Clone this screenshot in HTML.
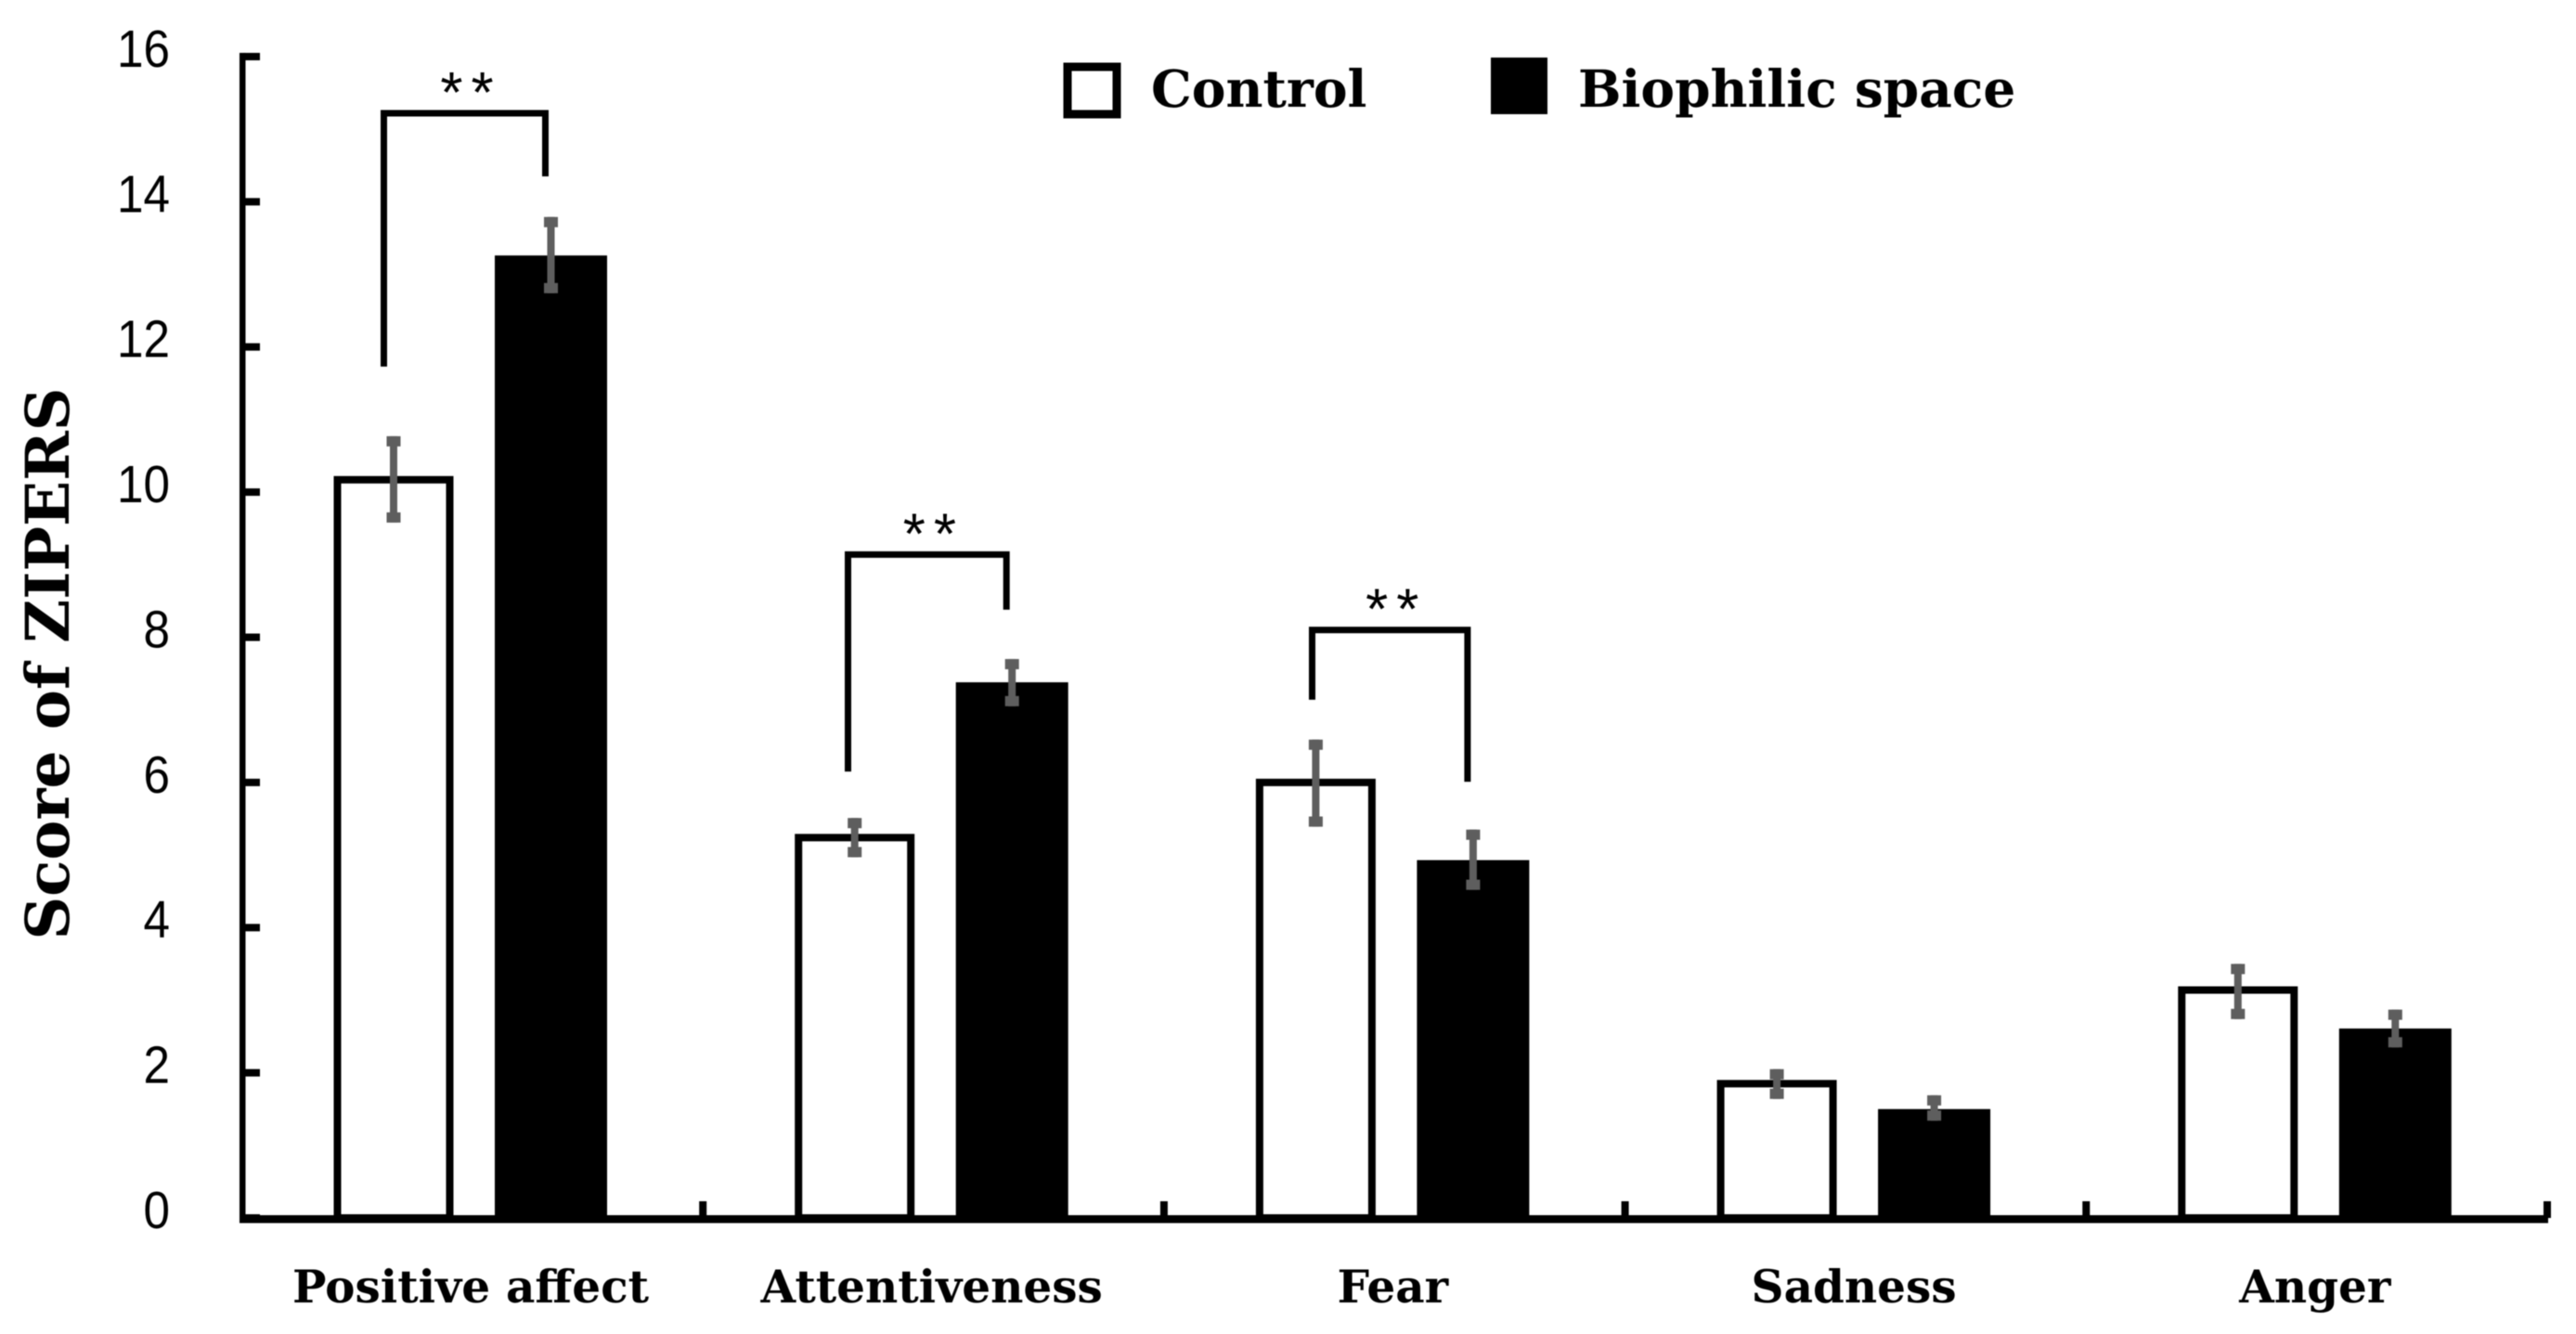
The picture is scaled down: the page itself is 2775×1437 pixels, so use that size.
<!DOCTYPE html>
<html lang="en">
<head>
<meta charset="utf-8">
<title>Score of ZIPERS</title>
<style>
  html, body { margin: 0; padding: 0; background: #fff; }
  svg { display: block; filter: blur(0.6px); }
  .serif { font-family: "DejaVu Serif", "Liberation Serif", serif; font-weight: 700; fill: #000; }
  .sans { font-family: "Liberation Sans", Arial, sans-serif; fill: #000; }
</style>
</head>
<body>
<svg id="chart" xmlns="http://www.w3.org/2000/svg" width="2775" height="1437" viewBox="0 0 2775 1437">
  <rect x="0" y="0" width="2775" height="1437" fill="#fff"/>
  <g id="bars"></g>
  <g id="errors"></g>
  <g id="axes"></g>
  <g id="brackets"></g>
  <text class="serif" transform="translate(74,715) rotate(-90)" text-anchor="middle" font-size="64.5">Score of ZIPERS</text>
  <g>
    <g>
      <rect x="1150" y="72" width="53" height="51" fill="#fff" stroke="#000" stroke-width="9"/>
      <text class="serif" x="1240" y="115" font-size="55">Control</text>
    </g>
    <g>
      <rect x="1606" y="62" width="61" height="61" fill="#000"/>
      <text class="serif" x="1700" y="115" font-size="55">Biophilic space</text>
    </g>
  </g>
</svg>
<script>
const categories = ["Positive affect", "Attentiveness", "Fear", "Sadness", "Anger"];
const controlValues = [10.17, 5.24, 6.0, 1.85, 3.14];
const biophilicValues = [13.26, 7.38, 4.93, 1.5, 2.61];
const controlErrHigh = [10.77, 5.51, 6.59, 2.05, 3.50];
const controlErrLow = [9.58, 4.97, 5.39, 1.64, 2.74];
const biophilicErrHigh = [13.79, 7.70, 5.35, 1.69, 2.87];
const biophilicErrLow = [12.74, 7.05, 4.52, 1.34, 2.35];
const yTicks = [0, 2, 4, 6, 8, 10, 12, 14, 16];
const significantCategories = ["Positive affect", "Attentiveness", "Fear"];
const bracketTopValues = [15.22, 9.14, 8.10];
const bracketLeftEndValues = [11.73, 6.15, 7.14];
const bracketRightEndValues = [14.35, 8.38, 6.01];
const significanceLabel = "**";

const NS = "http://www.w3.org/2000/svg";
const Y0 = 1312, PX_PER_UNIT = 78.19;
const X0 = 260.5, BAND = 496.7;
const yScale = v => Y0 - v * PX_PER_UNIT;
const bandStart = i => X0 + i * BAND;
const CONTROL_CENTER = 163.5, BIO_CENTER = 333, CONTROL_W = 129, BIO_W = 121, LABEL_CENTER = 246.5;

function make(tag, attrs, parent) {
  const el = document.createElementNS(NS, tag);
  for (const k in attrs) el.setAttribute(k, attrs[k]);
  parent.appendChild(el);
  return el;
}

const barsG = document.getElementById("bars");
const errG = document.getElementById("errors");
const axesG = document.getElementById("axes");
const brG = document.getElementById("brackets");

function drawError(cx, hi, lo, name) {
  const capW = 15, capH = 11, stem = 8;
  const yHi = yScale(hi), yLo = yScale(lo);
  const g = make("g", { fill: "#5e5e5e" }, errG);
  
  
  make("rect", { x: cx - stem / 2, y: yHi, width: stem, height: yLo - yHi }, g);
  make("rect", { x: cx - capW / 2, y: yHi, width: capW, height: capH }, g);
  make("rect", { x: cx - capW / 2, y: yLo - capH, width: capW, height: capH }, g);
}

categories.forEach((cat, i) => {
  const slug = cat.toLowerCase().replace(/\s+/g, "-");
  const sw = 8;
  const cCx = bandStart(i) + CONTROL_CENTER;
  const bCx = bandStart(i) + BIO_CENTER;

  const cTop = yScale(controlValues[i]);
  const cBar = make("rect", {
    x: cCx - CONTROL_W / 2 + sw / 2, y: cTop,
    width: CONTROL_W - sw, height: Y0 - cTop,
    fill: "#fff", stroke: "#000", "stroke-width": sw
  }, barsG);
  
  

  const bTop = yScale(biophilicValues[i]);
  const bBar = make("rect", {
    x: bCx - BIO_W / 2, y: bTop,
    width: BIO_W, height: Y0 - bTop, fill: "#000"
  }, barsG);
  
  

  drawError(cCx, controlErrHigh[i], controlErrLow[i], 'error-bar-control-' + slug);
  drawError(bCx, biophilicErrHigh[i], biophilicErrLow[i], 'error-bar-biophilic-' + slug);

  const lab = make("text", {
    class: "serif", x: bandStart(i) + LABEL_CENTER, y: 1403,
    "text-anchor": "middle", "font-size": 48.5
  }, axesG);
  lab.textContent = cat;
  
  
});

const yAxis = make("rect", { x: 258, y: yScale(16) - 4, width: 6.5, height: Y0 + 5 - yScale(16) + 4, fill: "#000" }, axesG);



const xAxis = make("rect", { x: 258, y: Y0 - 3, width: bandStart(categories.length) + 1 - 258, height: 8.5, fill: "#000" }, axesG);



yTicks.forEach(t => {
  const tick = make("rect", { x: 262, y: yScale(t) - 4, width: 18, height: 8, fill: "#000" }, axesG);
  
  
  const lab = make("text", {
    class: "sans", transform: "translate(183," + (yScale(t) + 11) + ") scale(0.9,1)",
    "text-anchor": "end", "font-size": 57
  }, axesG);
  lab.textContent = String(t);
  
  
});

for (let i = 1; i <= categories.length; i++) {
  const tick = make("rect", { x: bandStart(i) - 4, y: 1294, width: 8, height: 18, fill: "#000" }, axesG);
  
  
}

function drawBracket(catName, k) {
  const i = categories.indexOf(catName);
  const slug = catName.toLowerCase().replace(/\s+/g, "-");
  const lx = bandStart(i) + 153 + k * 3.3, rx = bandStart(i) + 327;
  const top = yScale(bracketTopValues[k]);
  const path = make("path", {
    d: "M" + lx + " " + yScale(bracketLeftEndValues[k]) + "V" + top + "H" + rx + "V" + yScale(bracketRightEndValues[k]),
    fill: "none", stroke: "#000", "stroke-width": 7
  }, brG);
  
  
  const star = make("text", {
    class: "sans", x: (lx + rx) / 2 + 7, y: top - 1,
    "text-anchor": "middle", "font-size": 62, "letter-spacing": 9
  }, brG);
  star.textContent = significanceLabel;
  
  
}
significantCategories.forEach(drawBracket);
</script>
</body>
</html>
